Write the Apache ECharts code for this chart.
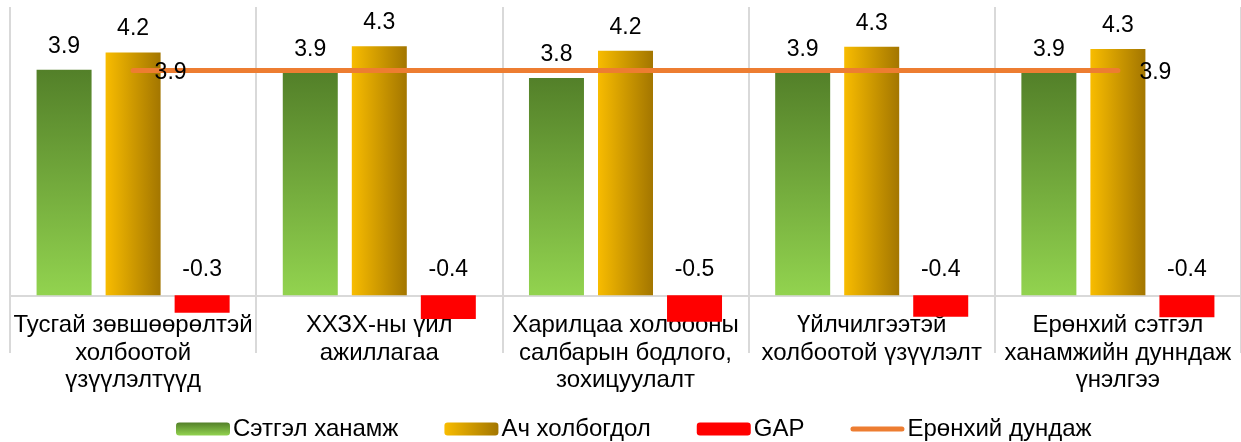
<!DOCTYPE html>
<html>
<head>
<meta charset="utf-8">
<script src="https://cdn.jsdelivr.net/npm/echarts@6/dist/echarts.min.js"></script>
<style>
    html, body { margin: 0; padding: 0; background: #fff; }
    #main { width: 1241px; height: 442px; }
</style>
</head>
<body>
<div id="main"></div>
<script>
// data
var categories = [
    'Тусгай зөвшөөрөлтэй\nхолбоотой\nүзүүлэлтүүд',
    'ХХЗХ-ны үйл\nажиллагаа',
    'Харилцаа холбооны\nсалбарын бодлого,\nзохицуулалт',
    'Үйлчилгээтэй\nхолбоотой үзүүлэлт',
    'Ерөнхий сэтгэл\nханамжийн дунндаж\nүнэлгээ'
];
var satisfaction = [3.91, 3.86, 3.77, 3.86, 3.86];
var importance = [4.21, 4.32, 4.24, 4.31, 4.27];
var gap = [-0.30, -0.41, -0.46, -0.37, -0.38];
var average = [3.9, 3.9, 3.9, 3.9, 3.9];

var font = 'Liberation Sans, Arial, sans-serif';

var CategoryInfo = function () {
    var myChart = echarts.init(document.getElementById('main'));

    var fmt = function (p) {
        return p.value.toFixed(1);
    };
    var labelStyle = {
        show: true,
        position: 'top',
        distance: 12,
        fontSize: 23,
        fontFamily: font,
        color: '#000',
        formatter: fmt
    };

    var option = {
        backgroundColor: '#fff',
        animation: false,
        grid: { left: 10, right: 0, top: 7, bottom: 89, containLabel: false, outerBoundsMode: 'none' },
        legend: {
            left: 171,
            top: 412,
            itemWidth: 54,
            itemHeight: 13,
            itemGap: 46,
            textStyle: { fontSize: 24, fontFamily: font, color: '#000', padding: [0, 0, 0, -2] },
            data: [
                'Сэтгэл ханамж',
                'Ач холбогдол',
                'GAP',
                {
                    name: 'Ерөнхий дундаж',
                    icon: 'path://M2.5,0 L51.5,0 A2.5,2.5 0 0 1 51.5,5 L2.5,5 A2.5,2.5 0 0 1 2.5,0 Z'
                }
            ]
        },
        xAxis: {
            type: 'category',
            data: categories,
            axisLine: { onZero: true, lineStyle: { color: '#d9d9d9', width: 2 } },
            axisTick: { show: false },
            splitLine: { show: true, interval: 0, lineStyle: { color: '#d9d9d9', width: 2 } },
            axisLabel: {
                interval: 0,
                margin: -41,
                fontSize: 24,
                lineHeight: 27.5,
                fontFamily: font,
                color: '#000'
            }
        },
        yAxis: {
            type: 'value',
            min: -1,
            max: 5,
            show: false,
            splitLine: { show: false }
        },
        series: [
            {
                name: 'Сэтгэл ханамж',
                type: 'bar',
                barWidth: 55,
                barGap: '25.5%',
                data: satisfaction,
                itemStyle: {
                    color: new echarts.graphic.LinearGradient(0, 0, 0, 1, [
                        { offset: 0, color: '#538029' },
                        { offset: 1, color: '#92D34F' }
                    ])
                },
                label: labelStyle
            },
            {
                name: 'Ач холбогдол',
                type: 'bar',
                barWidth: 55,
                data: importance,
                itemStyle: {
                    color: new echarts.graphic.LinearGradient(0, 0, 1, 0, [
                        { offset: 0, color: '#F8BC00' },
                        { offset: 1, color: '#A37600' }
                    ])
                },
                label: labelStyle
            },
            {
                name: 'GAP',
                type: 'bar',
                barWidth: 55,
                data: gap,
                itemStyle: { color: '#FF0000' },
                // GAP labels sit above the zero line
                label: Object.assign({}, labelStyle, { distance: 14 })
            },
            {
                name: 'Ерөнхий дундаж',
                type: 'line',
                z: 5,
                data: average,
                symbol: 'circle',
                symbolSize: 1,
                itemStyle: { color: '#ED7D31' },
                lineStyle: { color: '#ED7D31', width: 5, cap: 'round' },
                label: {
                    show: true,
                    position: 'right',
                    distance: 21,
                    offset: [0, 2],
                    fontSize: 23,
                    fontFamily: font,
                    color: '#000',
                    formatter: function (p) {
                        if (p.dataIndex === 0 || p.dataIndex === average.length - 1) {
                            return p.value.toFixed(1);
                        }
                        return '';
                    }
                }
            }
        ]
    };

    myChart.setOption(option);
};

new CategoryInfo();
</script>
</body>
</html>
